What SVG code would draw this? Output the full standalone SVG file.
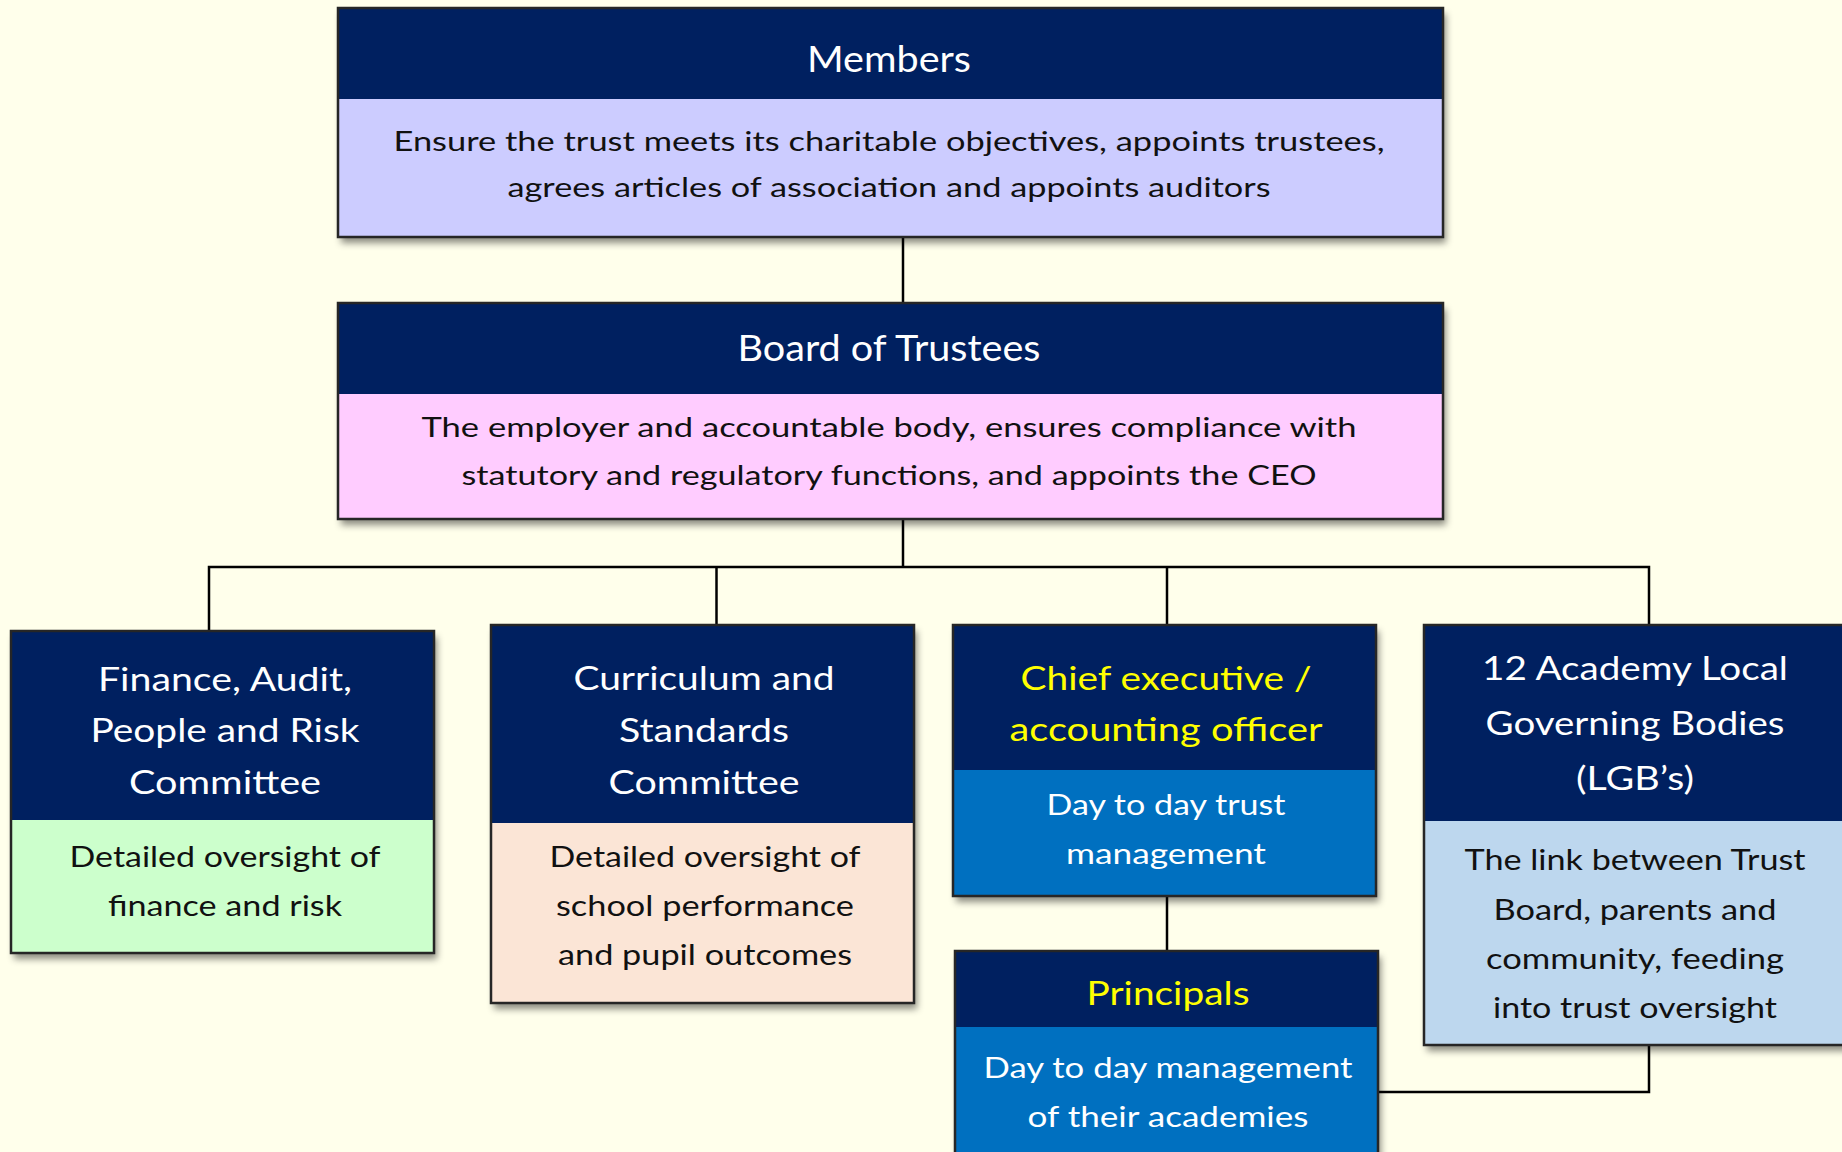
<svg xmlns="http://www.w3.org/2000/svg" width="1842" height="1152" viewBox="0 0 1842 1152">
  <defs>
    <filter id="shadow" x="-5%" y="-5%" width="115%" height="120%">
      <feDropShadow dx="3" dy="6" stdDeviation="3.5" flood-color="#000" flood-opacity="0.45"/>
    </filter>
  </defs>
  <style>
    .bg { fill: #FFFFEB; }
    .head { fill: #002060; }
    .frame { fill: none; stroke: #262626; stroke-width: 2.5; }
    .box { filter: url(#shadow); }
    text { font-family: Lato, "Open Sans", "Liberation Sans", sans-serif; text-anchor: middle; }
    .title { fill: #FFFFFF; font-size: 36px; }
    .title-s { fill: #FFFFFF; font-size: 33px; }
    .title-y { fill: #FFFF00; font-size: 33px; }
    .desc { fill: #111111; font-size: 27px; }
    .desc-s { fill: #111111; font-size: 29px; }
    .desc-w { fill: #FFFFFF; font-size: 29px; }
    .conn { fill: none; stroke: #000000; stroke-width: 2.5; }
  </style>

  <rect class="bg" x="0" y="0" width="1842" height="1152"/>

  <!-- connectors -->
  <g id="connectors">
    <path class="conn" d="M903 237 V303"/>
    <path class="conn" d="M903 519 V567"/>
    <path class="conn" d="M209 631 V567 H1649 V625"/>
    <path class="conn" d="M716.5 567 V625"/>
    <path class="conn" d="M1167 567 V625"/>
    <path class="conn" d="M1167 896 V951"/>
    <path class="conn" d="M1378 1092 H1649 V1045"/>
  </g>

  <!-- Members -->
  <g id="members">
    <g class="box">
      <rect x="338" y="8" width="1105" height="229" fill="#CCCCFF"/>
    </g>
    <rect class="head" x="338" y="8" width="1105" height="91"/>
    <rect class="frame" x="338" y="8" width="1105" height="229"/>
    <text class="title" x="889" y="72" textLength="164" lengthAdjust="spacingAndGlyphs">Members</text>
    <text class="desc" x="889" y="151" textLength="991" lengthAdjust="spacingAndGlyphs">Ensure the trust meets its charitable objectives, appoints trustees,</text>
    <text class="desc" x="889" y="197" textLength="763" lengthAdjust="spacingAndGlyphs">agrees articles of association and appoints auditors</text>
  </g>

  <!-- Board of Trustees -->
  <g id="board">
    <g class="box">
      <rect x="338" y="303" width="1105" height="216" fill="#FFCCFF"/>
    </g>
    <rect class="head" x="338" y="303" width="1105" height="91"/>
    <rect class="frame" x="338" y="303" width="1105" height="216"/>
    <text class="title" x="889" y="361" textLength="303" lengthAdjust="spacingAndGlyphs">Board of Trustees</text>
    <text class="desc" x="889" y="437" textLength="935" lengthAdjust="spacingAndGlyphs">The employer and accountable body, ensures compliance with</text>
    <text class="desc" x="889" y="485" textLength="855" lengthAdjust="spacingAndGlyphs">statutory and regulatory functions, and appoints the CEO</text>
  </g>

  <!-- Finance committee -->
  <g id="finance">
    <g class="box">
      <rect x="11" y="631" width="423" height="322" fill="#CCFFCC"/>
    </g>
    <rect class="head" x="11" y="631" width="423" height="189"/>
    <rect class="frame" x="11" y="631" width="423" height="322"/>
    <text class="title-s" x="225" y="691" textLength="254" lengthAdjust="spacingAndGlyphs">Finance, Audit,</text>
    <text class="title-s" x="225" y="742" textLength="269" lengthAdjust="spacingAndGlyphs">People and Risk</text>
    <text class="title-s" x="225" y="794" textLength="192" lengthAdjust="spacingAndGlyphs">Committee</text>
    <text class="desc-s" x="225" y="867" textLength="311" lengthAdjust="spacingAndGlyphs">Detailed oversight of</text>
    <text class="desc-s" x="225" y="916" textLength="234" lengthAdjust="spacingAndGlyphs">finance and risk</text>
  </g>

  <!-- Curriculum committee -->
  <g id="curriculum">
    <g class="box">
      <rect x="491" y="625" width="423" height="378" fill="#FBE5D6"/>
    </g>
    <rect class="head" x="491" y="625" width="423" height="198"/>
    <rect class="frame" x="491" y="625" width="423" height="378"/>
    <text class="title-s" x="704" y="690" textLength="261" lengthAdjust="spacingAndGlyphs">Curriculum and</text>
    <text class="title-s" x="704" y="742" textLength="170" lengthAdjust="spacingAndGlyphs">Standards</text>
    <text class="title-s" x="704" y="794" textLength="191" lengthAdjust="spacingAndGlyphs">Committee</text>
    <text class="desc-s" x="705" y="867" textLength="311" lengthAdjust="spacingAndGlyphs">Detailed oversight of</text>
    <text class="desc-s" x="705" y="916" textLength="298" lengthAdjust="spacingAndGlyphs">school performance</text>
    <text class="desc-s" x="705" y="965" textLength="294" lengthAdjust="spacingAndGlyphs">and pupil outcomes</text>
  </g>

  <!-- Chief executive -->
  <g id="ceo">
    <g class="box">
      <rect x="953" y="625" width="423" height="271" fill="#0070C0"/>
    </g>
    <rect class="head" x="953" y="625" width="423" height="145"/>
    <rect class="frame" x="953" y="625" width="423" height="271"/>
    <text class="title-y" x="1166" y="690" textLength="291" lengthAdjust="spacingAndGlyphs">Chief executive /</text>
    <text class="title-y" x="1166" y="741" textLength="313" lengthAdjust="spacingAndGlyphs">accounting officer</text>
    <text class="desc-w" x="1166" y="815" textLength="239" lengthAdjust="spacingAndGlyphs">Day to day trust</text>
    <text class="desc-w" x="1166" y="864" textLength="200" lengthAdjust="spacingAndGlyphs">management</text>
  </g>

  <!-- Principals -->
  <g id="principals">
    <g class="box">
      <rect x="955" y="951" width="423" height="220" fill="#0070C0"/>
    </g>
    <rect class="head" x="955" y="951" width="423" height="76"/>
    <rect class="frame" x="955" y="951" width="423" height="220"/>
    <text class="title-y" x="1168" y="1005" textLength="163" lengthAdjust="spacingAndGlyphs">Principals</text>
    <text class="desc-w" x="1168" y="1078" textLength="369" lengthAdjust="spacingAndGlyphs">Day to day management</text>
    <text class="desc-w" x="1168" y="1127" textLength="281" lengthAdjust="spacingAndGlyphs">of their academies</text>
  </g>

  <!-- Local governing bodies -->
  <g id="lgb">
    <g class="box">
      <rect x="1424" y="625" width="423" height="420" fill="#BDD7EE"/>
    </g>
    <rect class="head" x="1424" y="625" width="423" height="196"/>
    <rect class="frame" x="1424" y="625" width="423" height="420"/>
    <text class="title-s" x="1635" y="680" textLength="306" lengthAdjust="spacingAndGlyphs">12 Academy Local</text>
    <text class="title-s" x="1635" y="735" textLength="299" lengthAdjust="spacingAndGlyphs">Governing Bodies</text>
    <text class="title-s" x="1635" y="790" textLength="118" lengthAdjust="spacingAndGlyphs">(LGB’s)</text>
    <text class="desc-s" x="1635" y="870" textLength="341" lengthAdjust="spacingAndGlyphs">The link between Trust</text>
    <text class="desc-s" x="1635" y="920" textLength="283" lengthAdjust="spacingAndGlyphs">Board, parents and</text>
    <text class="desc-s" x="1635" y="969" textLength="298" lengthAdjust="spacingAndGlyphs">community, feeding</text>
    <text class="desc-s" x="1635" y="1018" textLength="284" lengthAdjust="spacingAndGlyphs">into trust oversight</text>
  </g>
</svg>
